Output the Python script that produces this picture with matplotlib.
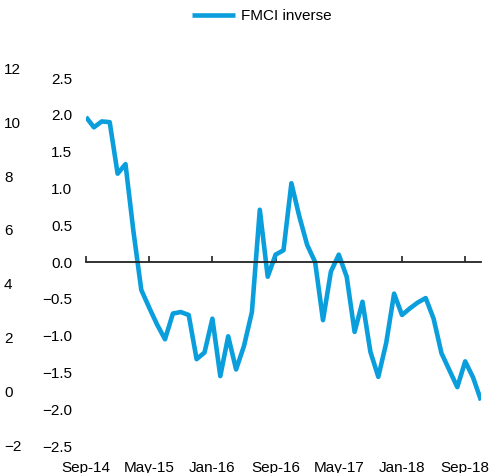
import matplotlib
matplotlib.use("Agg")
import matplotlib.pyplot as plt
import numpy as np

plt.rcParams['font.family'] = ['Liberation Sans', 'DejaVu Sans']

# Monthly data Sep-14 .. Nov-18
fmci_inverse = [1.97, 1.83, 1.91, 1.90, 1.20, 1.33, 0.42, -0.38, -0.62, -0.85,
                -1.05, -0.70, -0.68, -0.72, -1.32, -1.23, -0.77, -1.55, -1.01, -1.46,
                -1.14, -0.68, 0.71, -0.20, 0.10, 0.16, 1.07, 0.62, 0.23, 0.00,
                -0.79, -0.13, 0.10, -0.20, -0.95, -0.54, -1.22, -1.56, -1.10, -0.43,
                -0.72, -0.63, -0.55, -0.49, -0.77, -1.24, -1.47, -1.70, -1.35, -1.57,
                -1.88]
tick_months = [0, 8, 16, 24, 32, 40, 48]
tick_labels = ["Sep-14", "May-15", "Jan-16", "Sep-16", "May-17", "Jan-18", "Sep-18"]
inner_ticks = [2.5, 2.0, 1.5, 1.0, 0.5, 0.0, -0.5, -1.0, -1.5, -2.0, -2.5]
outer_ticks = [12, 10, 8, 6, 4, 2, 0, -2]

W, H = 493, 473
fig = plt.figure(figsize=(W / 100, H / 100), dpi=100)

color = '#0A9FDC'
fs = 11

# main axes
ax = fig.add_axes([86 / W, 27 / H, (481 - 86) / W, (446 - 78) / H])
x = np.arange(len(fmci_inverse))
line, = ax.plot(x, fmci_inverse, color=color, lw=3.3, solid_joinstyle='round',
                solid_capstyle='butt', label='FMCI inverse')
ax.set_xlim(0, len(fmci_inverse) - 1)
ax.set_ylim(-2.5, 2.5)
for s in ['top', 'right', 'left']:
    ax.spines[s].set_visible(False)
ax.spines['bottom'].set_position(('data', 0))
ax.spines['bottom'].set_linewidth(1.3)
ax.spines['bottom'].set_color('#222222')
ax.set_xticks(tick_months)
ax.tick_params(axis='x', direction='in', length=4, width=1.2, color='#222222',
               labelbottom=False)
ax.set_yticks(inner_ticks)
ax.set_yticklabels([f"{v:.1f}".replace('-', '\u2212') for v in inner_ticks])
ax.tick_params(axis='y', length=0, pad=10, labelsize=fs)
ax.set_zorder(2)
ax.patch.set_alpha(0)

sec = ax.secondary_xaxis('bottom')
sec.set_xticks(tick_months)
sec.set_xticklabels(tick_labels)
sec.spines['bottom'].set_visible(False)
sec.tick_params(length=0, pad=10.5, labelsize=fs)

# outer axis
ax2 = fig.add_axes([4 / W, 28 / H, 0.0001, (445 - 68.7) / H])
ax2.set_ylim(-2, 12)
ax2.set_yticks(outer_ticks)
ax2.set_yticklabels([str(v).replace('-', '\u2212') for v in outer_ticks])
ax2.yaxis.tick_right()
ax2.tick_params(axis='y', length=0, pad=0, labelsize=fs)
ax2.set_xticks([])
for s in ax2.spines.values():
    s.set_visible(False)
ax2.patch.set_alpha(0)

fig.legend(handles=[line], loc='center', bbox_to_anchor=(262 / W, 1 - 16 / H),
           frameon=False, fontsize=fs, handlelength=2.8, handletextpad=0.4)

fig.savefig('out.png', dpi=100)
